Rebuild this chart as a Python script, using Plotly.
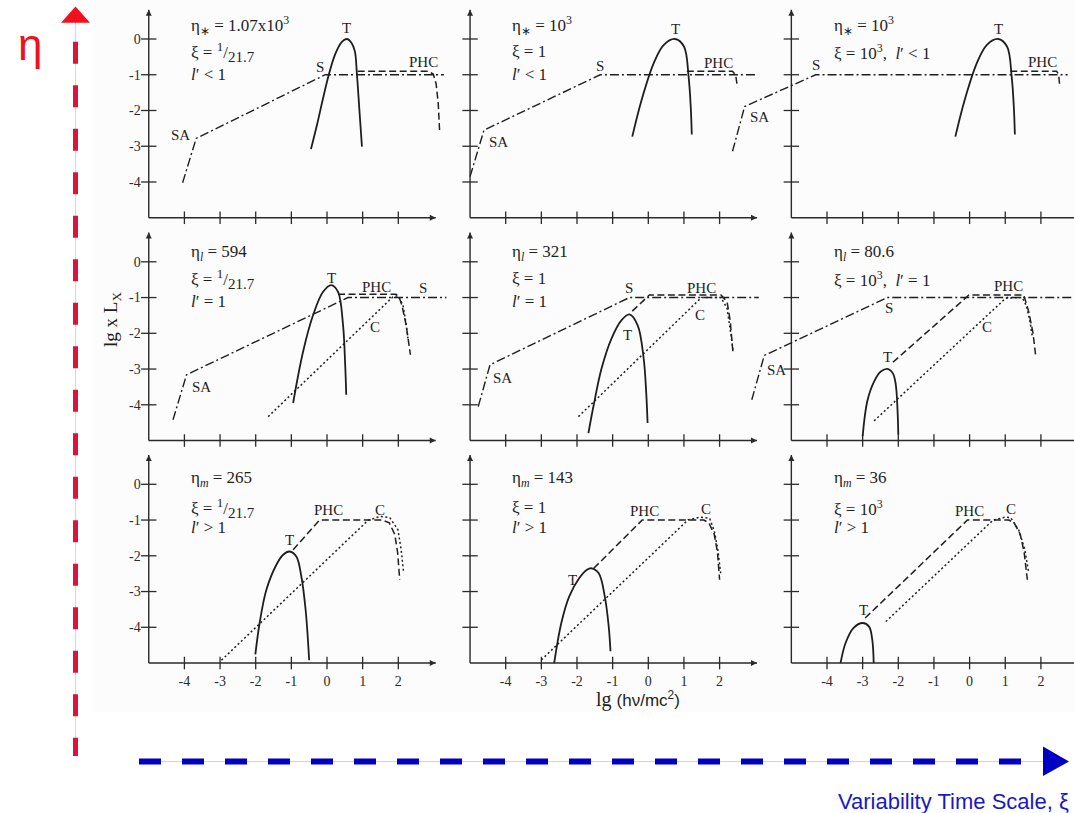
import plotly.graph_objects as go

# ---------------------------------------------------------------------------
# Spectral components, x = lg(hν/mc²), y = lg x L_X
# panel "ij" = row i (η sequence), column j (ξ = 1/21.7, 1, 10³)
# S = synchrotron / self-absorbed (dash-dot), T = thermal (solid),
# P = PHC (dashed), C = Comptonised (dotted)
# ---------------------------------------------------------------------------
S11_x = [-4.05, -3.67, -0.05, 3.28]
S11_y = [-4.02, -2.78, -1.0, -1.0]
T11_x = [-0.45, -0.28, -0.12, 0.05, 0.22, 0.4, 0.56, 0.68, 0.78, 0.84, 0.91, 0.98]
T11_y = [-3.08, -2.4, -1.7, -1.0, -0.45, -0.1, 0.0, -0.1, -0.34, -1.0, -2.0, -3.01]
P11_x = [0.86, 2.85, 2.98, 3.06, 3.12, 3.16]
P11_y = [-0.9, -0.9, -0.98, -1.25, -1.8, -2.6]

S12_x = [-5.0, -4.61, -1.35, 3.04]
S12_y = [-3.85, -2.55, -1.0, -1.0]
T12_x = [-0.45, -0.19, 0.15, 0.43, 0.75, 1.0, 1.13, 1.19, 1.22]
T12_y = [-2.73, -1.71, -0.68, -0.17, 0.0, -0.21, -1.05, -1.89, -2.67]
P12_x = [1.08, 2.36, 2.45, 2.5]
P12_y = [-0.9, -0.9, -1.0, -1.35]

S13_x = [-6.65, -6.31, -4.32, 2.75]
S13_y = [-3.14, -1.89, -1.0, -1.0]
T13_x = [-0.4, -0.14, 0.2, 0.48, 0.8, 1.05, 1.18, 1.24, 1.27]
T13_y = [-2.73, -1.71, -0.68, -0.17, 0.0, -0.21, -1.05, -1.89, -2.67]
P13_x = [1.14, 2.44, 2.5, 2.53]
P13_y = [-0.9, -0.9, -1.0, -1.35]

S21_x = [-4.32, -3.94, 0.59, 3.35]
S21_y = [-4.42, -3.16, -1.0, -1.0]
T21_x = [-0.95, -0.67, -0.39, -0.11, 0.12, 0.31, 0.45, 0.51, 0.54]
T21_y = [-3.95, -2.51, -1.49, -0.84, -0.65, -0.84, -1.77, -2.88, -3.72]
P21_x = [0.31, 1.94, 2.02, 2.1, 2.22, 2.34]
P21_y = [-0.91, -0.91, -0.98, -1.21, -1.77, -2.6]
C21_x = [-1.65, 1.85, 1.99, 2.13, 2.21, 2.27]
C21_y = [-4.33, -0.98, -0.95, -1.21, -1.67, -2.14]

S22_x = [-4.77, -4.44, -0.53, 3.1]
S22_y = [-4.05, -2.88, -1.0, -1.0]
T22_x = [-1.68, -1.53, -1.31, -1.03, -0.75, -0.53, -0.3, -0.13, -0.06, -0.02]
T22_y = [-4.79, -4.0, -2.98, -2.14, -1.63, -1.47, -1.77, -2.7, -3.63, -4.51]
P22_x = [-0.45, 0.03, 2.04, 2.21, 2.3, 2.38]
P22_y = [-1.38, -0.93, -0.93, -1.12, -1.67, -2.6]
C22_x = [-1.96, 1.49, 2.04, 2.21, 2.32, 2.38]
C22_y = [-4.33, -1.0, -1.0, -1.3, -2.05, -2.5]

S23_x = [-6.11, -5.76, -2.31, 2.88]
S23_y = [-3.86, -2.62, -1.0, -1.0]
T23_x = [-3.0, -2.87, -2.68, -2.49, -2.28, -2.15, -2.07, -2.02, -2.0]
T23_y = [-4.88, -3.9, -3.35, -3.07, -3.0, -3.12, -3.44, -4.19, -4.84]
P23_x = [-2.15, -0.02, 1.52, 1.66, 1.78, 1.85]
P23_y = [-2.81, -0.93, -0.93, -1.4, -2.0, -2.6]
C23_x = [-2.68, 1.01, 1.48, 1.6, 1.7, 1.76]
C23_y = [-4.45, -1.02, -1.0, -1.25, -1.7, -2.1]

T31_x = [-2.01, -1.89, -1.7, -1.42, -1.23, -1.05, -0.86, -0.72, -0.6, -0.5]
T31_y = [-4.76, -3.88, -2.95, -2.25, -1.97, -1.88, -2.02, -2.58, -3.51, -4.92]
P31_x = [-0.95, -0.21, 1.55, 1.75, 1.9, 1.98, 2.04]
P31_y = [-1.83, -1.0, -1.0, -1.08, -1.4, -1.9, -2.67]
C31_x = [-2.96, 1.15, 1.48, 1.76, 1.99, 2.08, 2.15]
C31_y = [-4.92, -1.01, -0.9, -0.93, -1.27, -1.83, -2.48]

T32_x = [-2.64, -2.44, -2.22, -1.94, -1.72, -1.59, -1.39, -1.22, -1.11, -1.06]
T32_y = [-5.0, -3.88, -3.14, -2.63, -2.39, -2.35, -2.49, -3.14, -3.98, -4.67]
P32_x = [-1.53, -0.17, 1.56, 1.7, 1.85, 1.94, 2.0]
P32_y = [-2.35, -1.0, -1.0, -1.08, -1.4, -1.9, -2.67]
C32_x = [-3.0, 1.11, 1.45, 1.72, 1.85, 1.95, 2.03]
C32_y = [-4.91, -1.0, -0.92, -0.95, -1.3, -1.83, -2.49]

T33_x = [-3.62, -3.48, -3.26, -3.0, -2.82, -2.73, -2.69]
T33_y = [-5.0, -4.44, -4.02, -3.88, -3.98, -4.35, -5.0]
P33_x = [-2.93, -0.06, 1.1, 1.25, 1.42, 1.53, 1.62]
P33_y = [-3.74, -1.0, -1.0, -1.08, -1.4, -1.9, -2.67]
C33_x = [-2.35, 0.66, 1.0, 1.15, 1.38, 1.55, 1.66]
C33_y = [-3.84, -1.0, -0.92, -0.93, -1.28, -1.83, -2.49]

# axis ticks
TICK_X = [-4, -3, -2, -1, 0, 1, 2]
TICK_X_TEXT = ["-4", "-3", "-2", "-1", "0", "1", "2"]
TICK_Y = [0, -1, -2, -3, -4]
TICK_Y_TEXT = ["0", "-1", "-2", "-3", "-4"]

# panel parameter texts
XI_FRAC = ("ξ = <sup><span style='font-size:13px'>1</span></sup>/"
           "<sub><span style='font-size:15px'>21.7</span></sub>")
ETA_TEXT = ["η<sub>∗</sub> = 1.07x10<sup>3</sup>", "η<sub>∗</sub> = 10<sup>3</sup>", "η<sub>∗</sub> = 10<sup>3</sup>",
            "η<sub><i>l</i></sub> = 594", "η<sub><i>l</i></sub> = 321", "η<sub><i>l</i></sub> = 80.6",
            "η<sub><i>m</i></sub> = 265", "η<sub><i>m</i></sub> = 143", "η<sub><i>m</i></sub> = 36"]
XI_TEXT = [XI_FRAC, "ξ = 1", "ξ = 10<sup>3</sup>,  <i>l</i>′ &lt; 1",
           XI_FRAC, "ξ = 1", "ξ = 10<sup>3</sup>,  <i>l</i>′ = 1",
           XI_FRAC, "ξ = 1", "ξ = 10<sup>3</sup>"]
L_TEXT = ["<i>l</i>′ &lt; 1", "<i>l</i>′ &lt; 1", "",
          "<i>l</i>′ = 1", "<i>l</i>′ = 1", "",
          "<i>l</i>′ &gt; 1", "<i>l</i>′ &gt; 1", "<i>l</i>′ &gt; 1"]

# component curves of each panel: (S, T, PHC, C)
PANELS = [
    ((S11_x, S11_y), (T11_x, T11_y), (P11_x, P11_y), None),
    ((S12_x, S12_y), (T12_x, T12_y), (P12_x, P12_y), None),
    ((S13_x, S13_y), (T13_x, T13_y), (P13_x, P13_y), None),
    ((S21_x, S21_y), (T21_x, T21_y), (P21_x, P21_y), (C21_x, C21_y)),
    ((S22_x, S22_y), (T22_x, T22_y), (P22_x, P22_y), (C22_x, C22_y)),
    ((S23_x, S23_y), (T23_x, T23_y), (P23_x, P23_y), (C23_x, C23_y)),
    (None, (T31_x, T31_y), (P31_x, P31_y), (C31_x, C31_y)),
    (None, (T32_x, T32_y), (P32_x, P32_y), (C32_x, C32_y)),
    (None, (T33_x, T33_y), (P33_x, P33_y), (C33_x, C33_y)),
]

# curve labels placed in data coordinates of each panel
LABELS = [
    [("T", 0.56, 0.3), ("S", -0.19, -0.77), ("SA", -4.12, -2.69), ("PHC", 2.71, -0.63)],
    [("T", 0.75, 0.28), ("S", -1.35, -0.76), ("SA", -4.21, -2.87), ("PHC", 1.96, -0.66)],
    [("T", 0.8, 0.28), ("S", -4.32, -0.73), ("SA", -5.9, -2.17), ("PHC", 2.05, -0.63)],
    [("T", 0.12, -0.45), ("S", 2.69, -0.74), ("SA", -3.52, -3.49), ("PHC", 1.38, -0.7), ("C", 1.34, -1.81)],
    [("T", -0.58, -2.05), ("S", -0.53, -0.74), ("SA", -4.1, -3.26), ("PHC", 1.49, -0.74), ("C", 1.46, -1.49)],
    [("T", -2.31, -2.67), ("S", -2.26, -1.3), ("SA", -5.43, -3.02), ("PHC", 1.1, -0.68), ("C", 0.49, -1.81)],
    [("T", -1.05, -1.55), ("PHC", 0.03, -0.72), ("C", 1.48, -0.72)],
    [("T", -2.13, -2.67), ("PHC", -0.11, -0.74), ("C", 1.61, -0.7)],
    [("T", -2.98, -3.51), ("PHC", 0.0, -0.74), ("C", 1.16, -0.7)],
]

# ---------------------------------------------------------------------------
# page geometry (pixels)
# ---------------------------------------------------------------------------
W, H = 1074, 813
X0 = [327.0, 648.3, 969.6]      # pixel column of lg(hν/mc²) = 0
Y0 = [39.0, 261.8, 484.3]       # pixel row of lg x L_X = 0
SX, SY = 35.65, 35.75           # pixels per decade
AXIS_X, AXIS_Y = -5.0, -5.0     # where the axes cross
X_LO = [-5.06, -5.06, -7.0]
X_HI = [3.45, 3.45, (W - X0[2]) / SX]
Y_LO, Y_HI = -5.06, 0.9
X_TIP, Y_TIP = 3.05, 0.82
ROW_TEXT_Y = [(0.39, -0.36, -1.0), (0.26, -0.47, -1.12), (0.14, -0.66, -1.2)]

SERIF = "Liberation Serif"
SANS = "Liberation Sans"
INK = "#1e1e1e"
AX = "#2a2a2a"


def pxx(p):
    return p / W


def pxy(p):
    return 1 - p / H


fig = go.Figure()
annotations = []
axes = {}

for k, comps in enumerate(PANELS):
    r, c = divmod(k, 3)
    sfx = "" if k == 0 else str(k + 1)
    xa, ya = "x" + sfx, "y" + sfx
    lo, hi = X_LO[c], X_HI[c]

    axes["xaxis" + sfx] = dict(
        domain=[pxx(X0[c] + SX * lo), min(1.0, pxx(X0[c] + SX * hi))],
        range=[lo, hi], anchor=ya, showgrid=False, zeroline=False, showline=False,
        ticks="", tickmode="array", tickvals=TICK_X, ticktext=TICK_X_TEXT,
        showticklabels=(r == 2), ticklabelstandoff=6,
        tickfont=dict(family=SERIF, size=14, color=AX), fixedrange=True)
    axes["yaxis" + sfx] = dict(
        domain=[pxy(Y0[r] - SY * Y_LO), pxy(Y0[r] - SY * Y_HI)],
        range=[Y_LO, Y_HI], anchor="free", position=pxx(X0[c] + AXIS_X * SX),
        showgrid=False, zeroline=False, showline=False,
        ticks="", tickmode="array", tickvals=TICK_Y, ticktext=TICK_Y_TEXT,
        showticklabels=(c == 0), ticklabelstandoff=8,
        tickfont=dict(family=SERIF, size=14, color=AX), fixedrange=True)

    # axis lines, arrow heads and tick marks crossing the axes
    x_end = X_TIP if c < 2 else hi
    fig.add_trace(go.Scatter(x=[AXIS_X, x_end], y=[AXIS_Y, AXIS_Y], mode="lines",
                             xaxis=xa, yaxis=ya, line=dict(color=AX, width=1.4)))
    fig.add_trace(go.Scatter(x=[AXIS_X, AXIS_X], y=[AXIS_Y, Y_TIP], mode="lines",
                             xaxis=xa, yaxis=ya, line=dict(color=AX, width=1.4)))
    if c < 2:
        fig.add_trace(go.Scatter(x=[X_TIP], y=[AXIS_Y], mode="markers", xaxis=xa, yaxis=ya,
                                 cliponaxis=False,
                                 marker=dict(symbol="arrow-right", size=6, color=AX,
                                             line=dict(width=0))))
    fig.add_trace(go.Scatter(x=[AXIS_X], y=[Y_TIP], mode="markers", xaxis=xa, yaxis=ya,
                             cliponaxis=False,
                             marker=dict(symbol="arrow-up", size=6, color=AX,
                                         line=dict(width=0))))
    fig.add_trace(go.Scatter(x=TICK_X, y=[AXIS_Y] * len(TICK_X), mode="markers",
                             xaxis=xa, yaxis=ya, cliponaxis=False,
                             marker=dict(symbol="line-ns", size=9, line=dict(width=1.3, color=AX))))
    fig.add_trace(go.Scatter(x=[AXIS_X] * len(TICK_Y), y=TICK_Y, mode="markers",
                             xaxis=xa, yaxis=ya, cliponaxis=False,
                             marker=dict(symbol="line-ew", size=11, line=dict(width=1.3, color=AX))))

    s, t, p, cc = comps
    if s is not None:
        fig.add_trace(go.Scatter(x=s[0], y=s[1], mode="lines", xaxis=xa, yaxis=ya,
                                 line=dict(color=INK, width=1.4, dash="9px,3px,2px,3px")))
    if cc is not None:
        fig.add_trace(go.Scatter(x=cc[0], y=cc[1], mode="lines", xaxis=xa, yaxis=ya,
                                 line=dict(color=INK, width=1.5, dash="2px,2.5px")))
    fig.add_trace(go.Scatter(x=p[0], y=p[1], mode="lines", xaxis=xa, yaxis=ya,
                             line=dict(color=INK, width=1.5, dash="7px,3.5px")))
    fig.add_trace(go.Scatter(x=t[0], y=t[1], mode="lines", xaxis=xa, yaxis=ya,
                             line=dict(color=INK, width=1.8, shape="spline", smoothing=1.0)))

    # parameter block
    for txt, yy in zip((ETA_TEXT[k], XI_TEXT[k], L_TEXT[k]), ROW_TEXT_Y[r]):
        if txt:
            annotations.append(dict(xref=xa, yref=ya, x=-3.87, y=yy, text=txt,
                                    showarrow=False, xanchor="left", yanchor="middle",
                                    font=dict(family=SERIF, size=17, color=INK)))
    # curve labels
    for txt, lx, ly in LABELS[k]:
        annotations.append(dict(xref=xa, yref=ya, x=lx, y=ly, text=txt, showarrow=False,
                                xanchor="center", yanchor="middle",
                                font=dict(family=SERIF, size=15, color=INK)))

# axis titles
annotations.append(dict(xref="paper", yref="paper", x=pxx(112), y=pxy(320),
                        text="lg x L<sub>X</sub>", textangle=-90, showarrow=False,
                        xanchor="center", yanchor="middle",
                        font=dict(family=SERIF, size=19, color=INK)))
annotations.append(dict(xref="paper", yref="paper", x=pxx(638), y=pxy(699),
                        text=f"lg <span style='font-family:{SANS}; font-size:17px'>(hν/mc<sup>2</sup>)</span>",
                        showarrow=False, xanchor="center", yanchor="middle",
                        font=dict(family=SERIF, size=20, color=INK)))

# η direction (vertical) and variability time scale (horizontal) guides
RED, RED_HEAD, RED_THIN = "#dc143c", "#f0101e", "#f4c8d0"
BLUE, BLUE_THIN = "#0000c4", "#cfd0f2"
annotations.append(dict(xref="paper", yref="paper", x=pxx(30), y=pxy(44), text="η",
                        showarrow=False, xanchor="center", yanchor="middle",
                        font=dict(family=SANS, size=44, color=RED_HEAD)))
annotations.append(dict(xref="paper", yref="paper", x=pxx(1071), y=pxy(801),
                        text="Variability Time Scale, ξ", showarrow=False,
                        xanchor="right", yanchor="middle",
                        font=dict(family=SANS, size=22, color="#1818c8")))

shapes = [
    dict(type="rect", xref="paper", yref="paper", x0=pxx(93), x1=1.0, y0=pxy(712), y1=1.0,
         fillcolor="#fcfcfc", line=dict(width=0), layer="below"),
    dict(type="line", xref="paper", yref="paper", x0=pxx(75.5), x1=pxx(75.5),
         y0=pxy(22), y1=pxy(756), line=dict(color=RED_THIN, width=1)),
    dict(type="line", xref="paper", yref="paper", x0=pxx(75.5), x1=pxx(75.5),
         y0=pxy(41.7), y1=pxy(756), line=dict(color=RED, width=5, dash="22px,21.5px")),
    dict(type="path", xref="paper", yref="paper",
         path=f"M {pxx(61)} {pxy(22.7)} L {pxx(90)} {pxy(22.7)} L {pxx(75.5)} {pxy(6.5)} Z",
         fillcolor=RED_HEAD, line=dict(width=0)),
    dict(type="line", xref="paper", yref="paper", x0=pxx(139), x1=pxx(1045),
         y0=pxy(761.5), y1=pxy(761.5), line=dict(color=BLUE_THIN, width=1)),
    dict(type="line", xref="paper", yref="paper", x0=pxx(139), x1=pxx(1040),
         y0=pxy(761.5), y1=pxy(761.5), line=dict(color=BLUE, width=6, dash="22px,21px")),
    dict(type="path", xref="paper", yref="paper",
         path=f"M {pxx(1043)} {pxy(746.5)} L {pxx(1043)} {pxy(776)} L {pxx(1069)} {pxy(761.5)} Z",
         fillcolor=BLUE, line=dict(width=0)),
]

fig.update_traces(showlegend=False, hoverinfo="skip")
fig.update_layout(
    width=W, height=H, autosize=False,
    margin=dict(l=0, r=0, t=0, b=0, pad=0),
    paper_bgcolor="white", plot_bgcolor="rgba(0,0,0,0)",
    showlegend=False, annotations=annotations, shapes=shapes,
    **axes,
)

fig.write_html("out.html")
